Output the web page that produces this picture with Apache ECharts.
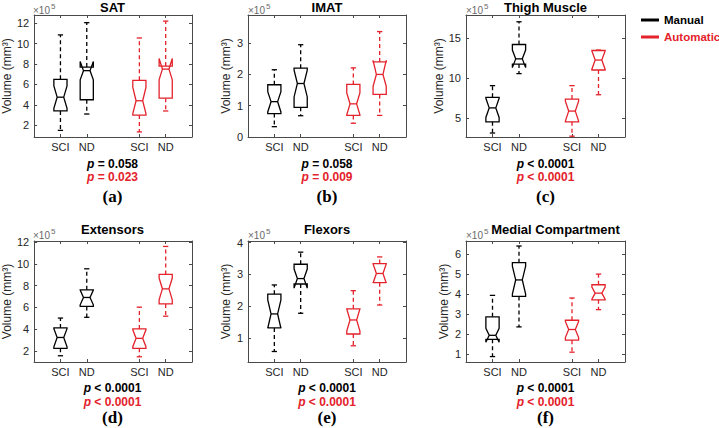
<!DOCTYPE html>
<html>
<head>
<meta charset="utf-8">
<script src="https://cdn.jsdelivr.net/npm/echarts@6/dist/echarts.min.js"></script>
<style>html,body{margin:0;padding:0;background:#fff}#c{width:719px;height:428px}</style>
</head>
<body>
<div id="c"></div>
<script>
// ---- data (values in units of 1e5 mm^3) ----
// each box: [whiskerLow, q1, notchLow, median, notchHigh, q3, whiskerHigh]
const categories = ['SCI', 'ND'];
const panelTitles = ['SAT', 'IMAT', 'Thigh Muscle', 'Extensors', 'Flexors', 'Medial Compartment'];
const panelLabels = ['(a)', '(b)', '(c)', '(d)', '(e)', '(f)'];
const pManual = ['= 0.058', '= 0.058', '< 0.0001', '< 0.0001', '< 0.0001', '< 0.0001'];
const pAutomatic = ['= 0.023', '= 0.009', '< 0.0001', '< 0.0001', '< 0.0001', '< 0.0001'];

const satManual = [[1.5, 3.4, 3.65, 4.75, 5.85, 6.5, 10.85], [3.1, 4.5, 6.45, 7.35, 8.25, 7.7, 12.05]];
const satAutomatic = [[1.35, 3.0, 3.15, 4.4, 5.7, 6.4, 10.55], [3.4, 4.65, 6.45, 7.5, 8.55, 7.8, 12.2]];
const imatManual = [[0.33, 0.75, 0.8, 1.13, 1.45, 1.67, 2.15], [0.68, 0.95, 1.28, 1.71, 2.14, 2.2, 2.95]];
const imatAutomatic = [[0.44, 0.69, 0.71, 1.06, 1.41, 1.68, 2.21], [0.69, 1.36, 1.62, 2.0, 2.45, 2.4, 3.37]];
const thighManual = [[3.1, 4.5, 5.05, 6.25, 7.45, 7.58, 9.04], [10.55, 11.75, 11.3, 12.4, 13.5, 14.2, 17.05]];
const thighAutomatic = [[2.7, 4.5, 4.6, 5.85, 7.1, 7.35, 9.04], [7.9, 11.0, 11.1, 12.25, 13.4, 13.45, 13.5]];
const extManual = [[1.57, 2.25, 2.4, 3.25, 4.05, 4.13, 5.03], [5.1, 6.1, 6.25, 6.92, 7.6, 7.62, 9.55]];
const extAutomatic = [[1.48, 2.25, 2.4, 3.17, 3.95, 4.03, 6.03], [5.2, 6.33, 6.7, 7.71, 8.7, 9.03, 11.6]];
const flexManual = [[0.58, 1.32, 1.31, 1.76, 2.2, 2.38, 2.67], [1.78, 2.7, 2.57, 2.87, 3.17, 3.32, 3.7]];
const flexAutomatic = [[0.76, 1.13, 1.22, 1.57, 1.92, 1.92, 2.49], [2.04, 2.74, 2.73, 3.03, 3.33, 3.34, 3.55]];
const medManual = [[0.89, 1.75, 1.6, 1.95, 2.3, 2.87, 3.94], [2.37, 3.89, 4.0, 4.71, 5.4, 5.57, 6.4]];
const medAutomatic = [[1.11, 1.71, 1.84, 2.24, 2.64, 2.7, 3.81], [3.23, 3.72, 3.75, 4.05, 4.35, 4.47, 5.0]];

const yTicks = [[2, 4, 6, 8, 10, 12], [0, 1, 2, 3], [5, 10, 15], [2, 4, 6, 8, 10, 12], [1, 2, 3, 4], [1, 2, 3, 4, 5, 6]];
const yRanges = [[0.85, 12.8], [0, 3.9], [2.6, 17.9], [1.0, 12.1], [0.25, 4.05], [0.62, 6.65]];

const manualData = [satManual, imatManual, thighManual, extManual, flexManual, medManual];
const automaticData = [satAutomatic, imatAutomatic, thighAutomatic, extAutomatic, flexAutomatic, medAutomatic];

// ---- layout / style ----
const RED = '#e4222b';
const INK = '#262626';
const AXC = '#4a4a4a';
const FONT = '"Liberation Sans", Arial, sans-serif';
const manualPos = [1, 2], autoPos = [4, 5];
const grids = [
  {left: 33, top: 15, width: 159, height: 122},
  {left: 248, top: 15, width: 158, height: 122},
  {left: 466, top: 15, width: 159, height: 122},
  {left: 33, top: 241, width: 159, height: 121},
  {left: 248, top: 241, width: 158, height: 121},
  {left: 466, top: 241, width: 159, height: 121}
];
const titleShift = [0, 0, 0, 0, 0, 10]; // title pushed right to clear the exponent label
const rowText = [
  {title: 7, exp: 10, p1: 163.5, p2: 177, lab: 196.5},
  {title: 229, exp: 235, p1: 388, p2: 401.5, lab: 417.5}
];

function renderNotch(params, api) {
  const x = api.value(0);
  const wl = api.value(1), q1 = api.value(2), nlo = api.value(3), med = api.value(4),
        nhi = api.value(5), q3 = api.value(6), wh = api.value(7);
  const color = api.visual('color');
  const hw = 0.25, ins = 0.125, cap = 0.1;
  const c = (a, b) => api.coord([a, b]);
  const pts = [c(x - hw, q1), c(x - hw, nlo), c(x - hw + ins, med), c(x - hw, nhi), c(x - hw, q3),
               c(x + hw, q3), c(x + hw, nhi), c(x + hw - ins, med), c(x + hw, nlo), c(x + hw, q1)];
  const seg = (a, b, dash) => ({type: 'line', shape: {x1: a[0], y1: a[1], x2: b[0], y2: b[1]},
    style: {stroke: color, lineWidth: 1.3, lineDash: dash || null, fill: null}});
  return {type: 'group', children: [
    {type: 'polygon', shape: {points: pts}, style: {fill: 'none', stroke: color, lineWidth: 1.3}},
    seg(c(x - hw + ins, med), c(x + hw - ins, med)),
    seg(c(x, q3), c(x, wh), [4, 3]),
    seg(c(x, q1), c(x, wl), [4, 3]),
    seg(c(x - cap, wh), c(x + cap, wh)),
    seg(c(x - cap, wl), c(x + cap, wl))
  ]};
}

const xAxes = [], yAxes = [], series = [], graphics = [];
const xLab = {1: categories[0], 2: categories[1], 4: categories[0], 5: categories[1]};

grids.forEach((g, i) => {
  const common = {gridIndex: i, splitLine: {show: false},
    axisLine: {show: true, onZero: false, lineStyle: {color: AXC, width: 1}}};
  xAxes.push(Object.assign({}, common, {type: 'value', min: 0, max: 6, position: 'bottom',
    axisTick: {inside: true, length: 3, customValues: [1, 2, 4, 5], lineStyle: {color: AXC}},
    axisLabel: {customValues: [1, 2, 4, 5], formatter: v => xLab[v] || '', color: INK,
      fontSize: 11, fontFamily: FONT, margin: 4}}));
  xAxes.push(Object.assign({}, common, {type: 'value', min: 0, max: 6, position: 'top',
    axisTick: {inside: true, length: 3, customValues: [1, 2, 4, 5], lineStyle: {color: AXC}},
    axisLabel: {show: false}}));
  yAxes.push(Object.assign({}, common, {type: 'value', min: yRanges[i][0], max: yRanges[i][1], position: 'left',
    axisTick: {inside: true, length: 3, customValues: yTicks[i], lineStyle: {color: AXC}},
    axisLabel: {customValues: yTicks[i], formatter: v => String(v), color: INK, fontSize: 11,
      fontFamily: FONT, margin: 5},
    name: 'Volume (mm³)', nameLocation: 'middle', nameGap: 16,
    nameTextStyle: {color: INK, fontSize: 12, fontFamily: FONT}}));
  yAxes.push(Object.assign({}, common, {type: 'value', min: yRanges[i][0], max: yRanges[i][1], position: 'right',
    axisTick: {inside: true, length: 3, customValues: yTicks[i], lineStyle: {color: AXC}},
    axisLabel: {show: false}}));

  series.push({type: 'custom', name: 'Manual', xAxisIndex: 2 * i, yAxisIndex: 2 * i, clip: true,
    itemStyle: {color: '#000'}, renderItem: renderNotch,
    encode: {x: 0, y: [1, 2, 3, 4, 5, 6, 7]},
    data: manualData[i].map((b, k) => [manualPos[k]].concat(b))});
  series.push({type: 'custom', name: 'Automatic', xAxisIndex: 2 * i, yAxisIndex: 2 * i, clip: true,
    itemStyle: {color: RED}, renderItem: renderNotch,
    encode: {x: 0, y: [1, 2, 3, 4, 5, 6, 7]},
    data: automaticData[i].map((b, k) => [autoPos[k]].concat(b))});

  const r = rowText[i < 3 ? 0 : 1];
  const cx = g.left + g.width / 2;
  graphics.push({type: 'text', x: cx + titleShift[i], y: r.title, style: {text: panelTitles[i], font: 'bold 13px ' + FONT,
    fill: '#000', align: 'center', verticalAlign: 'middle'}});
  graphics.push({type: 'text', x: g.left, y: r.exp, style: {text: '×10', font: '10px ' + FONT,
    fill: '#6a6a6a', align: 'left', verticalAlign: 'middle'}});
  graphics.push({type: 'text', x: g.left + 18, y: r.exp - 4, style: {text: '5', font: '8px ' + FONT,
    fill: '#6a6a6a', align: 'left', verticalAlign: 'middle'}});
  graphics.push({type: 'text', x: cx, y: r.p1, style: {text: '{i|p} ' + pManual[i],
    font: 'bold 12px ' + FONT, fill: '#000', align: 'center', verticalAlign: 'middle',
    rich: {i: {fontStyle: 'italic', fontWeight: 'bold', fontSize: 12, fontFamily: FONT, fill: '#000'}}}});
  graphics.push({type: 'text', x: cx, y: r.p2, style: {text: '{i|p} ' + pAutomatic[i],
    font: 'bold 12px ' + FONT, fill: RED, align: 'center', verticalAlign: 'middle',
    rich: {i: {fontStyle: 'italic', fontWeight: 'bold', fontSize: 12, fontFamily: FONT, fill: RED}}}});
  graphics.push({type: 'text', x: cx, y: r.lab, style: {text: panelLabels[i],
    font: 'bold 17px "Liberation Serif", "Times New Roman", serif', fill: '#000', align: 'center', verticalAlign: 'middle'}});
});

const chart = echarts.init(document.getElementById('c'), null, {renderer: 'svg'});
chart.setOption({
  animation: false,
  backgroundColor: '#fff',
  grid: grids.map(g => Object.assign({containLabel: false}, g)),
  xAxis: xAxes,
  yAxis: yAxes,
  legend: {orient: 'vertical', left: 641, top: 14, itemWidth: 18, itemHeight: 3, itemGap: 5,
    icon: 'rect', selectedMode: false, padding: 0,
    textStyle: {fontSize: 11.5, fontWeight: 'bold', fontFamily: FONT},
    data: [{name: 'Manual', textStyle: {color: '#000'}}, {name: 'Automatic', textStyle: {color: RED}}]},
  series: series,
  graphic: graphics
});
</script>
</body>
</html>
